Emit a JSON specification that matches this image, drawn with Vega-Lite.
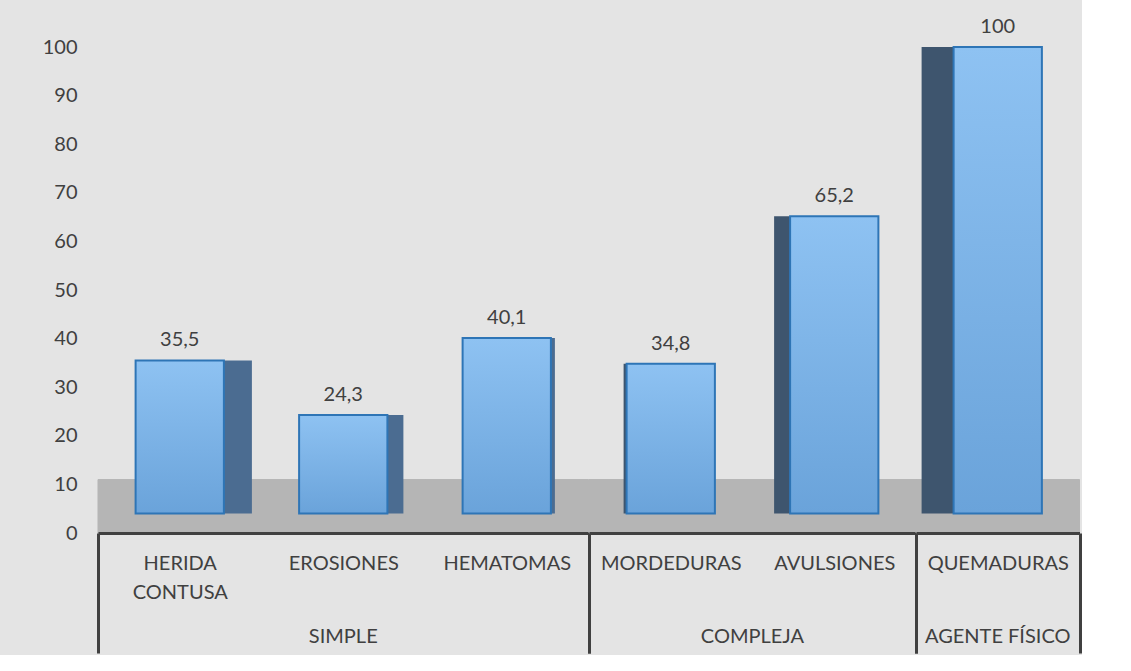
{
  "$schema": "https://vega.github.io/schema/vega-lite/v6.json",
  "background": "#e4e4e4",
  "padding": {"left": 42, "top": 17, "right": 0, "bottom": 0},
  "config": {
    "view": {"stroke": null},
    "font": "Lato",
    "locale": {"number": {"decimal": ",", "thousands": ".", "grouping": [3], "currency": ["", " €"]}},
    "axisY": {"domain": false, "ticks": false, "grid": false, "labelFontSize": 20, "labelColor": "#404040", "labelPadding": 21, "labelFont": "Lato"}
  },
  "data": {"values": [
    {"cat": "HERIDA CONTUSA", "group": "SIMPLE", "value": 35.5},
    {"cat": "EROSIONES", "group": "SIMPLE", "value": 24.3},
    {"cat": "HEMATOMAS", "group": "SIMPLE", "value": 40.1},
    {"cat": "MORDEDURAS", "group": "COMPLEJA", "value": 34.8},
    {"cat": "AVULSIONES", "group": "COMPLEJA", "value": 65.2},
    {"cat": "QUEMADURAS", "group": "AGENTE FÍSICO", "value": 100}
  ]},
  "facet": {"column": {"field": "group", "type": "nominal", "sort": ["SIMPLE", "COMPLEJA", "AGENTE FÍSICO"], "title": null,
    "header": {"labelOrient": "bottom", "labelFont": "Lato", "labelFontSize": 20, "labelColor": "#404040", "labelPadding": 94}}},
  "spacing": 0,
  "bounds": "flush",
  "resolve": {"scale": {"x": "independent"}},
  "spec": {
    "width": {"step": 163.5},
    "height": 486,
    "encoding": {
      "x": {"field": "cat", "type": "nominal", "sort": null,
        "scale": {"paddingInner": 0, "paddingOuter": 0},
        "axis": {"title": null, "labelAngle": 0, "labelExpr": "split(datum.label, ' ')", "labelFont": "Lato", "labelFontSize": 20, "labelColor": "#404040",
          "labelPadding": -100, "labelLineHeight": 29, "labelBaseline": "top", "labelLimit": 300,
          "domainColor": "#404040", "domainWidth": 3,
          "tickBand": "extent", "tickSize": 120, "tickWidth": 3, "tickColor": "#404040",
          "tickOpacity": {"condition": {"test": "!isValid(datum.value) || indexof(['HEMATOMAS','AVULSIONES','QUEMADURAS'], datum.value) >= 0", "value": 1}, "value": 0}}
      }
    },
    "layer": [
      {"mark": {"type": "rect", "color": "#b5b5b5", "stroke": "#b5b5b5", "strokeWidth": 1},
       "encoding": {"y": {"datum": 0, "type": "quantitative"}, "y2": {"datum": 11}}},
      {"transform": [{"filter": "datum.cat == 'HERIDA CONTUSA'"}],
       "mark": {"type": "bar", "color": "#4b6c91", "width": {"band": 0.54}, "xOffset": 28},
       "encoding": {"y": {"field": "value", "type": "quantitative"}, "y2": {"datum": 4}}},
      {"transform": [{"filter": "datum.cat == 'EROSIONES'"}],
       "mark": {"type": "bar", "color": "#4b6c91", "width": {"band": 0.54}, "xOffset": 16},
       "encoding": {"y": {"field": "value", "type": "quantitative"}, "y2": {"datum": 4}}},
      {"transform": [{"filter": "datum.cat == 'HEMATOMAS'"}],
       "mark": {"type": "bar", "color": "#4b6c91", "width": {"band": 0.54}, "xOffset": 4},
       "encoding": {"y": {"field": "value", "type": "quantitative"}, "y2": {"datum": 4}}},
      {"transform": [{"filter": "datum.cat == 'MORDEDURAS'"}],
       "mark": {"type": "bar", "color": "#3e556e", "width": {"band": 0.54}, "xOffset": -3},
       "encoding": {"y": {"field": "value", "type": "quantitative"}, "y2": {"datum": 4}}},
      {"transform": [{"filter": "datum.cat == 'AVULSIONES'"}],
       "mark": {"type": "bar", "color": "#3e556e", "width": {"band": 0.54}, "xOffset": -16},
       "encoding": {"y": {"field": "value", "type": "quantitative"}, "y2": {"datum": 4}}},
      {"transform": [{"filter": "datum.cat == 'QUEMADURAS'"}],
       "mark": {"type": "bar", "color": "#3e556e", "width": {"band": 0.54}, "xOffset": -32},
       "encoding": {"y": {"field": "value", "type": "quantitative"}, "y2": {"datum": 4}}},
      {"mark": {"type": "bar", "width": {"band": 0.54}, "stroke": "#2e75b6", "strokeWidth": 2,
        "fill": {"gradient": "linear", "x1": 0, "y1": 0, "x2": 0, "y2": 1, "stops": [{"offset": 0, "color": "#8ec2f2"}, {"offset": 1, "color": "#6aa3da"}]}},
       "encoding": {
         "y": {"field": "value", "type": "quantitative", "scale": {"domain": [0, 100]}, "axis": {"values": [0, 10, 20, 30, 40, 50, 60, 70, 80, 90, 100], "title": null}},
         "y2": {"datum": 4}}},
      {"mark": {"type": "text", "dy": -20, "fontSize": 20, "color": "#404040", "baseline": "middle", "font": "Lato"},
       "encoding": {"y": {"field": "value", "type": "quantitative"}, "text": {"field": "value", "type": "quantitative", "format": ".1~f"}}}
    ]
  }
}
